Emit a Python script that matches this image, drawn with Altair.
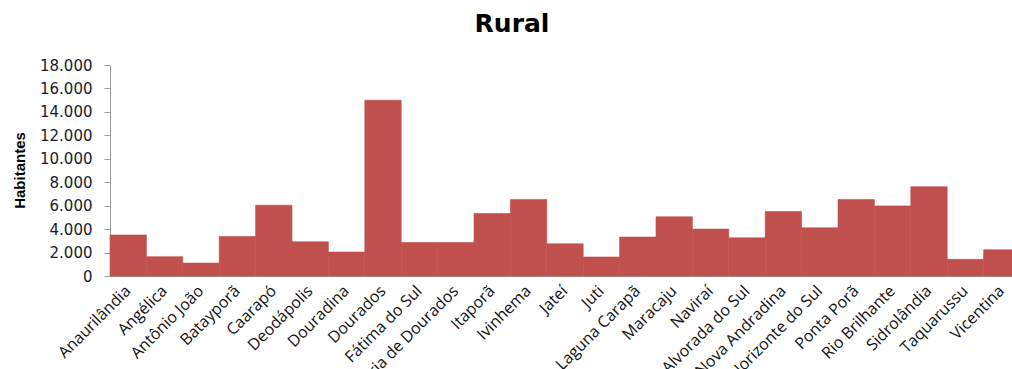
import altair as alt
import pandas as pd

municipios = ["Anaurilândia", "Angélica", "Antônio João", "Batayporã", "Caarapó",
              "Deodápolis", "Douradina", "Dourados", "Fátima do Sul", "Glória de Dourados",
              "Itaporã", "Ivinhema", "Jateí", "Juti", "Laguna Carapã", "Maracaju",
              "Naviraí", "Nova Alvorada do Sul", "Nova Andradina", "Novo Horizonte do Sul",
              "Ponta Porã", "Rio Brilhante", "Sidrolândia", "Taquarussu", "Vicentina"]
habitantes = [3500, 1650, 1100, 3370, 6040, 2920, 2040, 15000, 2860, 2860,
              5330, 6520, 2750, 1620, 3320, 5050, 4000, 3260, 5500, 4110,
              6520, 5980, 7620, 1420, 2240]
y_ticks = [0, 2000, 4000, 6000, 8000, 10000, 12000, 14000, 16000, 18000]

df = pd.DataFrame({"Municipio": municipios, "Habitantes": habitantes})

chart = alt.Chart(df).mark_bar(color="#C0504D", stroke="#C0504D", strokeWidth=0.6).encode(
    x=alt.X("Municipio:N", sort=municipios,
            scale=alt.Scale(paddingInner=0, paddingOuter=0, range=[0, 910]),
            axis=alt.Axis(title=None, labelAngle=315, labelAlign="right",
                          labelBaseline="middle", labelPadding=12, ticks=False,
                          labelFont="Open Sans", labelFontSize=16, labelColor="#111111",
                          domainColor="#9A9A9A", labelLimit=400)),
    y=alt.Y("Habitantes:Q", scale=alt.Scale(domain=[0, 18000], nice=False),
            axis=alt.Axis(title="Habitantes", values=y_ticks, grid=False,
                          labelExpr="replace(format(datum.value, ',d'), ',', '.')",
                          labelFont="DejaVu Sans", labelFontSize=15, labelColor="#1a1a2a",
                          tickSize=6, labelPadding=12, tickColor="#9A9A9A",
                          domainColor="#9A9A9A",
                          titleFont="Liberation Sans", titleFontSize=15, titleFontWeight="bold",
                          titleColor="#000000", titleAngle=270, titleX=-91, titleY=105,
                          titleAlign="center", titleBaseline="middle"))
).properties(
    width=902, height=211,
    title=alt.TitleParams("Rural", font="DejaVu Sans", fontSize=25, fontWeight="bold",
                          color="#000000", anchor="middle", dx=-49, offset=1,
                          baseline="alphabetic", frame="group"),
    autosize=alt.AutoSizeParams(type="none"),
    padding={"left": 110, "top": 65, "right": 0, "bottom": 93}
).configure_view(stroke=None)

chart.save("out.html", embed_options={"renderer": "svg", "actions": False})
